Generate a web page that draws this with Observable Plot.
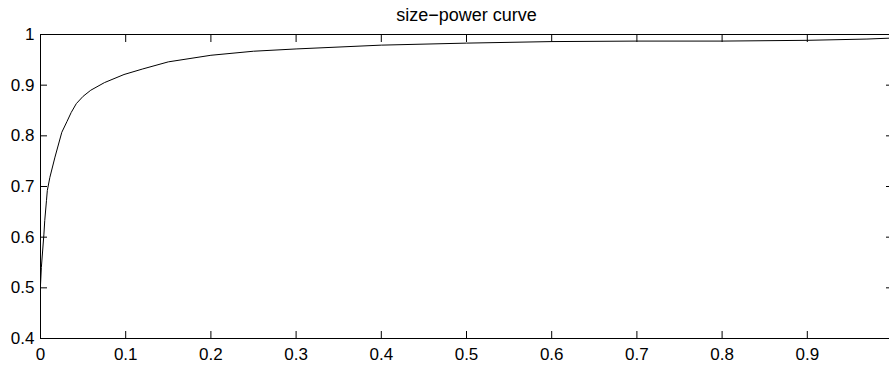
<!DOCTYPE html>
<html><head><meta charset="utf-8">
<script src="https://cdn.jsdelivr.net/npm/d3@7"></script>
<script src="https://cdn.jsdelivr.net/npm/@observablehq/plot@0.6"></script>
<style>html,body{margin:0;padding:0;background:#fff;overflow:hidden}</style>
</head><body><div id="chart"></div>
<script>
const chartTitle = "size−power curve";
const sizeValues  = [0, 0.001, 0.004, 0.005, 0.007, 0.008, 0.011, 0.017, 0.025, 0.031, 0.036, 0.042, 0.05, 0.059, 0.075, 0.098, 0.12, 0.15, 0.2, 0.25, 0.3, 0.4, 0.5, 0.6, 0.7, 0.8, 0.9, 0.97, 1.0];
const powerValues = [0.505, 0.54, 0.606, 0.633, 0.672, 0.692, 0.718, 0.758, 0.807, 0.828, 0.846, 0.8635, 0.878, 0.89, 0.905, 0.921, 0.932, 0.946, 0.959, 0.967, 0.9715, 0.979, 0.983, 0.986, 0.987, 0.987, 0.9885, 0.991, 0.993];
const xTicks = [0, 0.1, 0.2, 0.3, 0.4, 0.5, 0.6, 0.7, 0.8, 0.9];
const xTickLabels = ["0", "0.1", "0.2", "0.3", "0.4", "0.5", "0.6", "0.7", "0.8", "0.9"];
const yTicks = [0.4, 0.5, 0.6, 0.7, 0.8, 0.9, 1];
const yTickLabels = ["0.4", "0.5", "0.6", "0.7", "0.8", "0.9", "1"];

const data = sizeValues.map((s, i) => ({size: s, power: powerValues[i]}));
const fx = d => xTickLabels[xTicks.indexOf(d)];
const fy = d => yTickLabels[yTicks.indexOf(d)];
const blank = () => "";

const chart = Plot.plot({
  width: 889,
  height: 366,
  marginLeft: 40,
  marginRight: -3,
  marginTop: 34,
  marginBottom: 28,
  style: {fontFamily: "'Liberation Sans', Arial, sans-serif", fontSize: "17px", color: "black", background: "white", overflow: "visible"},
  x: {domain: [0, 1]},
  y: {domain: [0.4, 1]},
  marks: [
    Plot.frame({stroke: "black", strokeWidth: 1}),
    Plot.axisX(xTicks, {anchor: "bottom", tickSize: 0, tickPadding: 9, tickFormat: fx, fontSize: 17, label: null}),
    Plot.axisX(xTicks, {anchor: "bottom", tickSize: 7, dy: -7, tickFormat: blank, label: null}),
    Plot.axisX(xTicks, {anchor: "top", tickSize: 7, dy: 7, tickFormat: blank, label: null}),
    Plot.axisY(yTicks, {anchor: "left", tickSize: 0, tickPadding: 6, tickFormat: fy, fontSize: 17, label: null}),
    Plot.axisY(yTicks, {anchor: "left", tickSize: 7, dx: 7, tickFormat: blank, label: null}),
    Plot.axisY(yTicks, {anchor: "right", tickSize: 7, dx: -7, tickFormat: blank, label: null}),
    Plot.line(data, {x: "size", y: "power", stroke: "black", strokeWidth: 1}),
    Plot.text([chartTitle], {frameAnchor: "top", lineAnchor: "bottom", dy: -14, fontSize: 18, fill: "black"})
  ]
});
document.getElementById("chart").appendChild(chart);
</script>
</body></html>
